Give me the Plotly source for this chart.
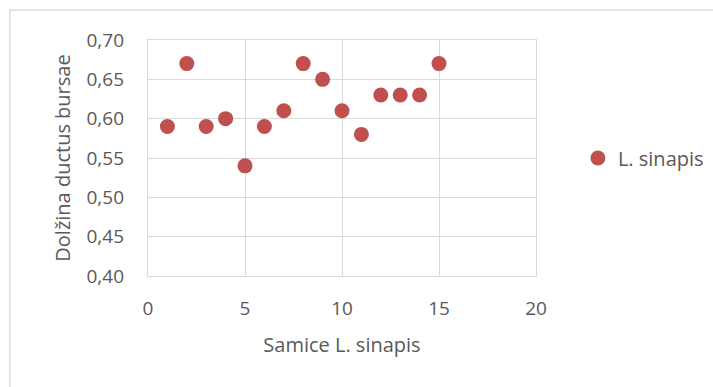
import plotly.graph_objects as go

samples = list(range(1, 16))
lengths = [0.59, 0.67, 0.59, 0.60, 0.54, 0.59, 0.61, 0.67, 0.65, 0.61, 0.58, 0.63, 0.63, 0.63, 0.67]
series_name = "L. sinapis"
x_title = "Samice L. sinapis"
y_title = "Dolžina ductus bursae"

font_family = "'Open Sans', Carlito, Calibri, sans-serif"
text_color = "#595959"
grid_color = "#d9d9d9"

fig = go.Figure()
fig.add_trace(go.Scatter(
    x=samples, y=lengths, mode="markers", name=series_name,
    marker=dict(color="#C0504D", size=15, line=dict(width=0)),
))

fig.update_layout(
    template="none",
    width=713, height=387,
    margin=dict(l=148, r=177, t=40, b=111, autoexpand=False),
    paper_bgcolor="white", plot_bgcolor="white",
    separators=",.",
    font=dict(family=font_family, color=text_color, size=19),
    showlegend=True,
    legend=dict(x=1.108, y=0.5, xanchor="left", yanchor="middle",
                font=dict(size=20, color=text_color), itemwidth=30,
                bgcolor="rgba(0,0,0,0)"),
    xaxis=dict(range=[0, 20], tickvals=[0, 5, 10, 15, 20], showgrid=True,
               gridcolor=grid_color, gridwidth=1.4, zeroline=False,
               showline=True, linecolor=grid_color, linewidth=1.4, mirror=True,
               ticks="", ticklabelstandoff=15, automargin=False,
               title=dict(text=x_title, font=dict(size=20), standoff=17),
               tickfont=dict(size=19)),
    yaxis=dict(range=[0.40, 0.70], tickvals=[0.40, 0.45, 0.50, 0.55, 0.60, 0.65, 0.70],
               tickformat=".2f", showgrid=True, gridcolor=grid_color, gridwidth=1.4,
               zeroline=False, showline=True, linecolor=grid_color, linewidth=1.4,
               mirror=True, ticks="", ticklabelstandoff=19, automargin=False,
               title=dict(text=y_title, font=dict(size=20), standoff=10),
               tickfont=dict(size=19)),
    shapes=[dict(type="rect", xref="paper", yref="paper",
                 x0=-0.356, y0=-0.8, x1=1.6, y1=1.127,
                 line=dict(color=grid_color, width=1.3), layer="below")],
)

fig.write_html("out.html", config={"displayModeBar": False},
               post_script="document.body.style.margin='0';document.body.style.overflow='hidden';")
